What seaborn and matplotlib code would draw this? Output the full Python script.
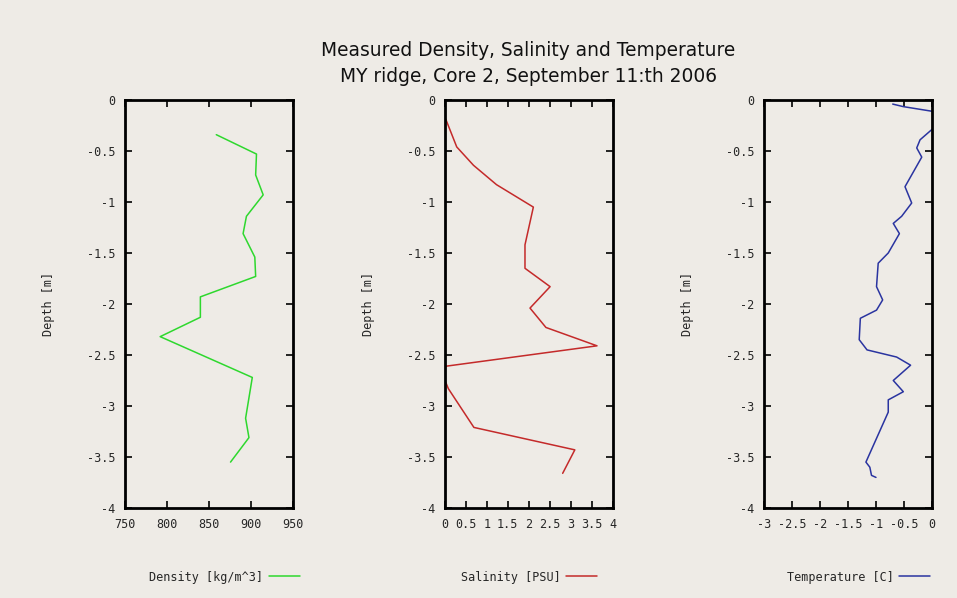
import matplotlib
matplotlib.use("Agg")
import matplotlib.pyplot as plt
import seaborn as sns
import pandas as pd
import numpy as np

# ---- data ----
density_depth = [-0.34, -0.53, -0.735, -0.93, -1.14, -1.31, -1.54, -1.73, -1.93, -2.13, -2.32, -2.72, -3.12, -3.31, -3.55]
density_vals = [859, 907, 906, 915, 895, 891, 905, 906, 840, 840, 792, 902, 894, 898, 876]

salinity_depth = [-0.19, -0.46, -0.64, -0.83, -1.05, -1.42, -1.65, -1.83, -2.04, -2.23, -2.41, -2.61, -2.70, -2.83, -3.21, -3.43, -3.66]
salinity_vals = [0.02, 0.28, 0.68, 1.23, 2.11, 1.91, 1.91, 2.51, 2.03, 2.41, 3.63, 0.02, -0.05, 0.08, 0.69, 3.10, 2.81]

temp_depth = [-0.04, -0.065, -0.11, -0.20, -0.29, -0.39, -0.47, -0.56, -0.85, -1.01, -1.14, -1.21, -1.31, -1.50, -1.60,
              -1.83, -1.96, -2.06, -2.14, -2.35, -2.45, -2.52, -2.60, -2.75, -2.86, -2.94, -3.06, -3.55, -3.60, -3.68, -3.70]
temp_vals = [-0.70, -0.51, 0.0, 0.30, 0.0, -0.21, -0.27, -0.18, -0.48, -0.36, -0.54, -0.69, -0.58, -0.78, -0.96,
             -0.99, -0.88, -0.99, -1.28, -1.30, -1.16, -0.63, -0.38, -0.69, -0.51, -0.78, -0.78, -1.18, -1.11, -1.08, -1.00]

titles = ["Measured Density, Salinity and Temperature", "MY ridge, Core 2, September 11:th 2006"]
legend_labels = ["Density [kg/m^3]", "Salinity [PSU]", "Temperature [C]"]
y_ticks = [0, -0.5, -1, -1.5, -2, -2.5, -3, -3.5, -4]
y_ticklabels = ["0", "-0.5", "-1", "-1.5", "-2", "-2.5", "-3", "-3.5", "-4"]
x_ticks = [[750, 800, 850, 900, 950],
           [0, 0.5, 1, 1.5, 2, 2.5, 3, 3.5, 4],
           [-3, -2.5, -2, -1.5, -1, -0.5, 0]]
x_ticklabels = [["750", "800", "850", "900", "950"],
                ["0", "0.5", "1", "1.5", "2", "2.5", "3", "3.5", "4"],
                ["-3", "-2.5", "-2", "-1.5", "-1", "-0.5", "0"]]
colors = ["#2ed82e", "#c42a2a", "#2a34a0"]

bg = "#eeebe6"
sns.set_theme(style="white")
plt.rcParams["font.family"] = ["DejaVu Sans"]

fig = plt.figure(figsize=(9.57, 5.98), dpi=100, facecolor=bg)

lefts = [125 / 957, 445 / 957, 764.3 / 957]
width = 167.5 / 957
bottom = 90 / 598
height = 408 / 598
legend_right = [300 / 957, 597 / 957, 930 / 957]

data = [
    pd.DataFrame({"val": density_vals, "depth": density_depth}),
    pd.DataFrame({"val": salinity_vals, "depth": salinity_depth}),
    pd.DataFrame({"val": temp_vals, "depth": temp_depth}),
]

mono = "DejaVu Sans Mono"
for i in range(3):
    ax = fig.add_axes([lefts[i], bottom, width, height])
    ax.set_facecolor(bg)
    sns.lineplot(data=data[i], x="val", y="depth", sort=False, estimator=None,
                 color=colors[i], linewidth=1.1, ax=ax, label=legend_labels[i])
    ax.set_xlim(x_ticks[i][0], x_ticks[i][-1])
    ax.set_ylim(-4, 0)
    ax.set_xticks(x_ticks[i])
    ax.set_xticklabels(x_ticklabels[i], fontfamily=mono, fontsize=8.5)
    ax.set_yticks(y_ticks)
    ax.set_yticklabels(y_ticklabels, fontfamily=mono, fontsize=8.5)
    ax.tick_params(direction="in", length=5, width=1.2, color="black",
                   top=True, right=True, bottom=True, left=True, pad=7)
    for s in ax.spines.values():
        s.set_visible(True)
        s.set_color("black")
        s.set_linewidth(2)
    ax.set_xlabel("")
    ax.set_ylabel("Depth [m]", fontfamily=mono, fontsize=8.5, labelpad=23)
    ax.legend(loc="center right", bbox_to_anchor=(legend_right[i], 21 / 598),
              bbox_transform=fig.transFigure, frameon=False, markerfirst=False,
              prop={"family": mono, "size": 8.5}, handlelength=2.6, handletextpad=0.5,
              borderaxespad=0, borderpad=0)

fig.text(528 / 957, 1 - 50 / 598, titles[0], ha="center", va="center", fontsize=13.4, color="#111111")
fig.text(528 / 957, 1 - 77 / 598, titles[1], ha="center", va="center", fontsize=13.4, color="#111111")

fig.savefig("out.png", dpi=100, facecolor=bg)
